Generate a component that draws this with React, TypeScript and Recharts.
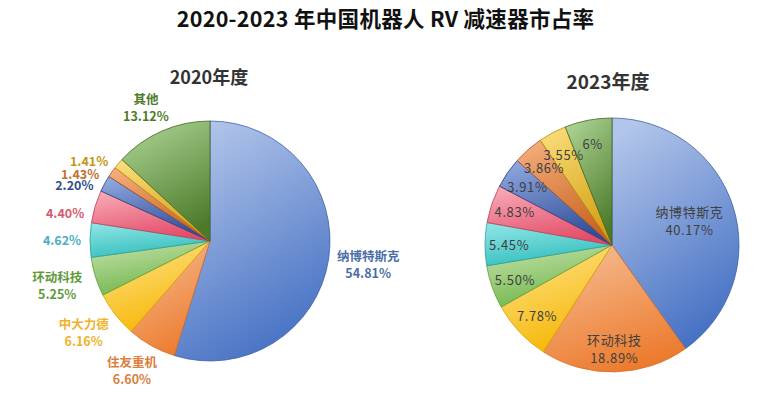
import React from "react";
import { PieChart, Pie, Cell } from "recharts";

// ---------- data ----------
const LEFT_TITLE = "2020年度";
const RIGHT_TITLE = "2023年度";
const MAIN_TITLE = "2020-2023 年中国机器人 RV 减速器市占率";

const LEFT_NAMES = ["纳博特斯克", "住友重机", "中大力德", "环动科技", "", "", "", "", "", "其他"];
const LEFT_VALUES = [54.81, 6.6, 6.16, 5.25, 4.62, 4.4, 2.2, 1.43, 1.41, 13.12];

const RIGHT_NAMES = ["纳博特斯克", "环动科技", "", "", "", "", "", "", "", ""];
const RIGHT_VALUES = [40.17, 18.89, 7.78, 5.5, 5.45, 4.83, 3.91, 3.86, 3.55, 6];

// ---------- styles ----------
const LIGHT = ["#b3c6ea", "#f6bc92", "#ffe48a", "#c2e0a8", "#8ee4e4", "#f7a9b6", "#8ea7de", "#f3ad7c", "#f9dc78", "#abd292"];
const DARK = ["#4570c3", "#ec7a2c", "#f5b400", "#6cb446", "#2fbcbc", "#e34a66", "#2e4b96", "#c8621e", "#d3a012", "#4c7a2a"];
const STROKE = ["#3d62a8", "#d4702a", "#d9a200", "#5e9c3c", "#2aa3a3", "#c43e58", "#263f80", "#a9521a", "#b58a10", "#3f6623"];
const LEFT_LABEL_COLORS = ["#4b6ea8", "#d9803d", "#f0b22a", "#5f9a3a", "#4aaec4", "#d9596e", "#2f4d8a", "#c4702f", "#c39615", "#4e7a2a"];
const LEFT_NUDGE = [0, 0, 0, 0, 0, 5, 5, 6.5, 5, 0];

const FONT = "'Noto Sans CJK SC', 'Noto Sans', sans-serif";
const RAD = Math.PI / 180;
const M = 5; // PieChart default margin

const fmt = (v: number) => (Number.isInteger(v) ? `${v}%` : `${v.toFixed(2)}%`);

const leftData = LEFT_VALUES.map((v, i) => ({ name: LEFT_NAMES[i], value: v }));
const rightData = RIGHT_VALUES.map((v, i) => ({ name: RIGHT_NAMES[i], value: v }));

const renderLeftLabel = (p: any) => {
  const i = p.index;
  const name = LEFT_NAMES[i];
  const ox = p.outerRadius + (name ? 40 : 28);
  const oy = p.outerRadius + (name ? 27 : 20);
  const a = (p.midAngle + LEFT_NUDGE[i]) * RAD;
  const x = p.cx + ox * Math.cos(a);
  const y = p.cy - oy * Math.sin(a);
  const common = {
    textAnchor: "middle" as const,
    fill: LEFT_LABEL_COLORS[i],
    fontSize: 12.5,
    fontWeight: 700,
    fontFamily: FONT,
    dominantBaseline: "central" as const,
  };
  if (name) {
    return (
      <text key={`ll${i}`} x={x} y={y} {...common}>
        <tspan x={x} y={y - 8.5}>{name}</tspan>
        <tspan x={x} y={y + 8.5}>{fmt(LEFT_VALUES[i])}</tspan>
      </text>
    );
  }
  return (
    <text key={`ll${i}`} x={x} y={y} {...common}>
      {fmt(LEFT_VALUES[i])}
    </text>
  );
};

const renderRightLabel = (p: any) => {
  const i = p.index;
  const name = RIGHT_NAMES[i];
  const r = p.outerRadius * (i === 0 ? 0.64 : 0.81);
  const a = p.midAngle * RAD;
  const x = p.cx + r * Math.cos(a);
  const y = p.cy - r * Math.sin(a);
  const common = {
    textAnchor: "middle" as const,
    fill: "#404040",
    fontSize: 13,
    fontFamily: FONT,
    letterSpacing: 0.6,
    dominantBaseline: "central" as const,
  };
  if (name) {
    return (
      <text key={`rl${i}`} x={x} y={y} {...common}>
        <tspan x={x} y={y - 9}>{name}</tspan>
        <tspan x={x} y={y + 9}>{fmt(RIGHT_VALUES[i])}</tspan>
      </text>
    );
  }
  return (
    <text key={`rl${i}`} x={x} y={y} {...common}>
      {fmt(RIGHT_VALUES[i])}
    </text>
  );
};

export default function App() {
  return (
    <div style={{ position: "absolute", left: 0, top: 0, width: 779, height: 397, background: "#ffffff", overflow: "hidden" }}>
      <div
        style={{
          position: "absolute",
          left: -4,
          top: 3,
          width: 779,
          textAlign: "center",
          fontFamily: FONT,
          fontWeight: 700,
          fontSize: 21.5,
          lineHeight: "30px",
          color: "#111",
          letterSpacing: 0.3,
        }}
      >
        {MAIN_TITLE}
      </div>
      <div
        style={{
          position: "absolute",
          left: 109,
          top: 63,
          width: 200,
          textAlign: "center",
          fontFamily: FONT,
          fontWeight: 700,
          fontSize: 18,
          lineHeight: "26px",
          color: "#333",
        }}
      >
        {LEFT_TITLE}
      </div>
      <div
        style={{
          position: "absolute",
          left: 508,
          top: 67,
          width: 200,
          textAlign: "center",
          fontFamily: FONT,
          fontWeight: 700,
          fontSize: 19,
          lineHeight: "28px",
          color: "#333",
        }}
      >
        {RIGHT_TITLE}
      </div>
      <PieChart width={779} height={397} style={{ position: "absolute", left: 0, top: 0 }}>
        <defs>
          {LIGHT.map((c, i) => (
            <linearGradient key={`g${i}`} id={`grad${i}`} x1="0.2" y1="0" x2="0.6" y2="1">
              <stop offset="0%" stopColor={c} />
              <stop offset="100%" stopColor={DARK[i]} />
            </linearGradient>
          ))}
        </defs>
        <Pie
          data={leftData}
          dataKey="value"
          cx={210 - M}
          cy={241 - M}
          outerRadius={120}
          startAngle={90}
          endAngle={-270}
          isAnimationActive={false}
          labelLine={false}
          label={renderLeftLabel}
        >
          {leftData.map((_, i) => (
            <Cell key={`lc${i}`} fill={`url(#grad${i})`} stroke={STROKE[i]} strokeWidth={0.8} />
          ))}
        </Pie>
        <Pie
          data={rightData}
          dataKey="value"
          cx={612 - M}
          cy={245 - M}
          outerRadius={127}
          startAngle={90}
          endAngle={-270}
          isAnimationActive={false}
          labelLine={false}
          label={renderRightLabel}
        >
          {rightData.map((_, i) => (
            <Cell key={`rc${i}`} fill={`url(#grad${i})`} stroke={STROKE[i]} strokeWidth={0.8} />
          ))}
        </Pie>
      </PieChart>
    </div>
  );
}
